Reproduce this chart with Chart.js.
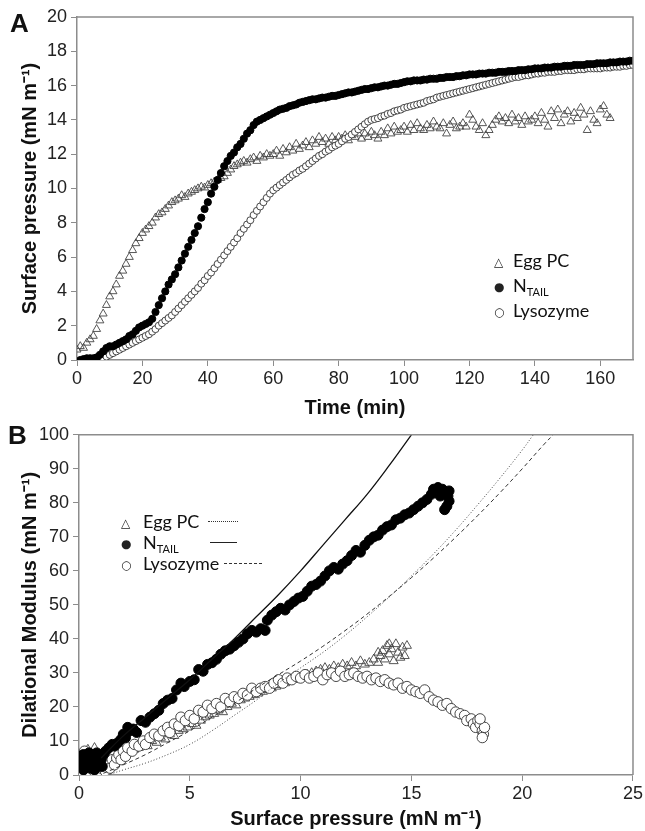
<!DOCTYPE html>
<html>
<head>
<meta charset="utf-8">
<script src="https://cdn.jsdelivr.net/npm/chart.js@4.4.0/dist/chart.umd.min.js"></script>
<style>
  body { margin: 0; background: #fff; }
  #wrap { position: relative; width: 645px; height: 831px; overflow: hidden; }
  canvas { position: absolute; left: 0; }
  .lbl { position: absolute; font-family: "Liberation Sans", Arial, sans-serif; font-weight: bold; font-size: 26px; color: #111; }
  .leg { position: absolute; font-family: Lato, "Open Sans", sans-serif; font-size: 18px; color: #111; line-height: 22px; white-space: nowrap; }
  .leg .sym { position: absolute; font-family: "DejaVu Sans", sans-serif; font-size: 12px; color: #222; }
  .leg sub { font-size: 11px; vertical-align: -4px; line-height: 0; }
  .leg .ln { position: absolute; height: 0; border-top: 1px solid #222; }
</style>
</head>
<body>
<div id="wrap">
  <canvas id="chartA" width="645" height="420" style="top:0"></canvas>
  <canvas id="chartB" width="645" height="411" style="top:420px"></canvas>
  <div class="lbl" style="left:10px;top:8px">A</div>
  <div class="lbl" style="left:8px;top:420px">B</div>

  <div class="leg" style="left:494px;top:249px">
    <span class="sym" style="left:0;top:2px">△</span><span style="margin-left:19px">Egg PC</span>
  </div>
  <div class="leg" style="left:494px;top:274px">
    <span class="sym" style="left:0;top:2px">●</span><span style="margin-left:19px">N<sub>TAIL</sub></span>
  </div>
  <div class="leg" style="left:494px;top:299px">
    <span class="sym" style="left:0;top:2px">○</span><span style="margin-left:19px">Lysozyme</span>
  </div>

  <div class="leg" style="left:121px;top:510px">
    <span class="sym" style="left:0;top:2px">△</span><span style="margin-left:22px">Egg PC</span>
    <span class="ln" style="left:87px;top:11px;width:30px;border-top:1px dotted #333"></span>
  </div>
  <div class="leg" style="left:121px;top:531px">
    <span class="sym" style="left:0;top:2px">●</span><span style="margin-left:22px">N<sub>TAIL</sub></span>
    <span class="ln" style="left:89px;top:11px;width:27px"></span>
  </div>
  <div class="leg" style="left:121px;top:552px">
    <span class="sym" style="left:0;top:2px">○</span><span style="margin-left:22px">Lysozyme</span>
    <span class="ln" style="left:103px;top:11px;width:38px;border-top:1px dashed #333"></span>
  </div>
</div>

<script>
// Panel A: surface pressure (mN/m) sampled once per minute
const ntailStart = 1;
const ntailA = [
  0.0, 0.05, 0.1, 0.1, 0.1, 0.15, 0.3, 0.5, 0.7, 0.8,
  0.8, 0.9, 1.0, 1.1, 1.2, 1.4, 1.5, 1.7, 1.9, 2.0,
  2.1, 2.2, 2.4, 2.8, 3.2, 3.6, 4.0, 4.4, 4.7, 5.0,
  5.4, 5.8, 6.2, 6.6, 7.0, 7.4, 7.8, 8.3, 8.8, 9.2,
  9.7, 10.1, 10.5, 10.9, 11.3, 11.6, 11.9, 12.1, 12.4, 12.6,
  12.9, 13.2, 13.4, 13.7, 13.9, 14.0, 14.1, 14.2, 14.3, 14.4,
  14.5, 14.6, 14.65, 14.7, 14.8, 14.85, 14.9, 15.0, 15.05, 15.1,
  15.15, 15.2, 15.2, 15.25, 15.3, 15.3, 15.35, 15.4, 15.4, 15.45,
  15.5, 15.55, 15.6, 15.6, 15.65, 15.7, 15.75, 15.8, 15.8, 15.85,
  15.9, 15.9, 15.95, 16.0, 16.0, 16.05, 16.1, 16.1, 16.15, 16.2,
  16.25, 16.25, 16.3, 16.3, 16.3, 16.35, 16.35, 16.4, 16.4, 16.4,
  16.45, 16.45, 16.5, 16.5, 16.5, 16.55, 16.55, 16.6, 16.6, 16.65,
  16.65, 16.65, 16.7, 16.7, 16.7, 16.75, 16.75, 16.75, 16.8, 16.8,
  16.8, 16.85, 16.85, 16.85, 16.9, 16.9, 16.9, 16.95, 16.95, 17.0,
  17.0, 17.0, 17.05, 17.05, 17.05, 17.1, 17.1, 17.1, 17.15, 17.15,
  17.15, 17.2, 17.2, 17.2, 17.2, 17.25, 17.25, 17.25, 17.3, 17.3,
  17.3, 17.3, 17.35, 17.35, 17.35, 17.4, 17.4, 17.4, 17.45, 17.45
];

const lysoStart = 3;
const lysoA = [
  0.0, 0.0, 0.0, 0.05, 0.1, 0.15, 0.2, 0.3,
  0.4, 0.5, 0.6, 0.7, 0.8, 0.9, 1.0, 1.1, 1.2, 1.3,
  1.4, 1.5, 1.65, 1.8, 2.0, 2.15, 2.3, 2.45, 2.6, 2.8,
  3.0, 3.2, 3.4, 3.6, 3.8, 4.0, 4.2, 4.45, 4.65, 4.9,
  5.1, 5.35, 5.6, 5.85, 6.1, 6.35, 6.6, 6.85, 7.1, 7.4,
  7.65, 7.9, 8.15, 8.45, 8.7, 8.95, 9.2, 9.45, 9.7, 9.9,
  10.05, 10.2, 10.35, 10.5, 10.65, 10.8, 10.9, 11.05, 11.15, 11.3,
  11.45, 11.6, 11.75, 11.9, 12.0, 12.15, 12.25, 12.4, 12.5, 12.6,
  12.75, 12.9, 13.0, 13.15, 13.3, 13.45, 13.6, 13.75, 13.9, 14.0,
  14.05, 14.1, 14.2, 14.25, 14.35, 14.4, 14.5, 14.55, 14.6, 14.7,
  14.75, 14.8, 14.85, 14.9, 14.95, 15.0, 15.1, 15.15, 15.2, 15.3,
  15.35, 15.4, 15.45, 15.5, 15.55, 15.6, 15.65, 15.7, 15.75, 15.8,
  15.85, 15.9, 15.95, 16.0, 16.05, 16.1, 16.15, 16.2, 16.25, 16.3,
  16.35, 16.4, 16.45, 16.5, 16.5, 16.55, 16.6, 16.6, 16.65, 16.7,
  16.7, 16.75, 16.75, 16.8, 16.8, 16.8, 16.85, 16.85, 16.9, 16.9,
  16.9, 16.9, 16.95, 16.95, 16.95, 17.0, 17.0, 17.0, 17.0, 17.0,
  17.05, 17.05, 17.05, 17.1, 17.1, 17.1, 17.15, 17.15, 17.2, 17.2
];

const eggStart = 0;
const eggA = [
  0.6, 0.8, 0.7, 1.0, 1.2, 1.4, 1.8, 2.3, 2.7, 3.2,
  3.7, 4.0, 4.4, 4.9, 5.2, 5.6, 6.0, 6.4, 6.8, 7.1,
  7.4, 7.6, 7.8, 8.0, 8.3, 8.5, 8.6, 8.8, 9.0, 9.2,
  9.3, 9.4, 9.6, 9.5, 9.7, 9.8, 9.9, 10.0, 10.1, 10.05,
  10.2, 10.3, 10.4, 10.5, 10.6, 10.7, 10.9, 11.1, 11.3, 11.4,
  11.5, 11.6, 11.5, 11.7, 11.8, 11.6, 11.9, 11.8, 12.0, 11.9,
  12.0, 12.2, 11.9, 12.3, 12.1, 12.4, 12.2, 12.6, 12.3, 12.5,
  12.7, 12.4, 12.8, 12.6, 13.0, 12.7, 12.9, 12.6, 13.0, 12.8,
  13.0, 12.9, 13.1, 12.8, 13.1, 13.0, 13.2, 12.9, 13.2, 13.0,
  13.3, 13.1, 12.9, 13.3, 13.1, 13.5, 13.2, 13.6, 13.3, 13.4,
  13.6, 13.3, 13.7, 13.4, 13.8, 13.5, 13.4, 13.7, 13.5, 13.9,
  13.6, 13.5, 13.8, 13.2, 13.7, 13.9, 13.5, 13.6, 13.8, 13.6,
  14.3, 14.0, 13.6, 13.4, 13.8, 13.1, 13.4, 13.7, 14.0, 14.2,
  13.9, 14.1, 13.8, 14.3, 13.9, 14.1, 13.7, 14.2, 13.9, 14.0,
  14.2, 13.8, 14.4, 14.0, 13.6, 14.5, 14.1, 14.6, 13.8, 14.3,
  14.5, 13.9, 14.4, 14.1, 14.7, 14.3, 13.4, 14.5, 14.0, 13.8,
  14.6, 14.8, 14.3, 14.1
];

// Panel B: dilational modulus (mN/m) vs surface pressure (mN/m)
const eggPi = [0.0, 0.1, 0.2, 0.3, 0.4, 0.5, 0.6, 0.7, 0.8, 0.9, 1.0, 1.1, 1.2, 1.3, 1.5, 1.7, 1.9, 2.1, 2.3, 2.5,
  2.7, 2.9, 3.1, 3.3, 3.5, 3.7, 3.9, 4.1, 4.3, 4.5, 4.7, 4.9, 5.1, 5.3, 5.5, 5.7, 5.9, 6.1, 6.3, 6.5,
  6.7, 6.9, 7.1, 7.3, 7.5, 7.7, 7.9, 8.1, 8.3, 8.5, 8.7, 8.9, 9.1, 9.3, 9.5, 9.7, 9.9, 10.1, 10.3, 10.5,
  10.7, 10.9, 11.1, 11.3, 11.5, 11.7, 11.9, 12.1, 12.3, 12.5, 12.7, 12.9, 13.1, 13.3, 13.5, 13.6, 13.7, 13.8, 13.9, 14.0,
  14.1, 14.2, 14.3, 14.4, 14.5, 14.6, 14.7, 14.8, 13.5, 14.0];
const eggE = [3, 6, 1, 4, 7.5, 2, 5, 8, 3, 1, 6, 2, 4, 1.5, 3, 4.5, 5, 6, 7, 7.5,
  8, 9, 8.5, 10, 9.5, 11, 10.5, 12, 11.5, 13, 13.5, 14, 15, 14.5, 16, 17, 17.5, 18, 19, 18.5,
  20, 21, 20.5, 22, 22.5, 23, 23.5, 24, 24.5, 25, 25.5, 26, 26.5, 27, 27.5, 28, 28.5, 29, 29.5, 30,
  30.5, 31, 31.5, 31, 32, 31.5, 32.5, 32, 33, 32, 33.5, 32.5, 33, 34, 33, 35, 36.5, 34, 38, 35.5,
  37, 33.5, 38.5, 36, 34.5, 37.5, 35, 38, 36, 38.5];

const ntailPi = [0.0, 0.05, 0.1, 0.15, 0.2, 0.2, 0.25, 0.3, 0.35, 0.4, 0.45, 0.5, 0.55, 0.6, 0.65, 0.7, 0.75, 0.8, 0.85, 0.9,
  0.95, 1.0, 1.05, 1.1, 1.2, 1.35, 1.5, 1.6, 1.75, 1.9, 2.0, 2.1, 2.2, 2.3, 2.45, 2.6, 2.8, 3.0, 3.2, 3.4,
  3.6, 3.8, 4.0, 4.2, 4.4, 4.6, 4.75, 5.0, 5.2, 5.4, 5.6, 5.8, 6.0, 6.2, 6.4, 6.6, 6.8, 7.0, 7.2, 7.4,
  7.6, 7.8, 8.0, 8.2, 8.4, 8.5, 8.7, 8.9, 9.1, 9.3, 9.5, 9.7, 9.9, 10.1, 10.3, 10.5, 10.7, 10.9, 11.1, 11.3,
  11.5, 11.7, 11.9, 12.1, 12.3, 12.5, 12.7, 12.9, 13.1, 13.3, 13.5, 13.7, 13.9, 14.1, 14.3, 14.5, 14.7, 14.9, 15.1, 15.3,
  15.5, 15.7, 15.9, 16.0, 16.2, 16.4, 16.55, 16.65, 16.7, 16.6, 16.5, 16.7, 16.3];
const ntailE = [4.5, 2.5, 5.5, 3, 1.5, 6, 4, 2.5, 5, 3.5, 6.5, 2, 4.5, 3, 5.5, 1.5, 4, 6.5, 2.5, 5,
  3.5, 4.5, 2.5, 6, 7, 8, 9, 8.5, 9.5, 10.5, 12, 11, 14, 13, 13.5, 12.5, 16, 15.5, 17, 18,
  19, 21, 22, 22.5, 25, 27, 26, 27.5, 28, 31, 30.5, 32.5, 33, 34, 35.5, 36.5, 37, 38, 39, 40,
  41.5, 42.5, 42, 43, 42.5, 45.5, 47, 48, 49, 48.5, 50, 51, 52, 52.5, 54, 55.5, 56, 57, 58.5, 60,
  61, 60.5, 62, 63, 64.5, 66, 65.5, 67.5, 69, 70, 70.5, 72, 73, 73.5, 75, 75.5, 76.5, 77, 78, 79,
  80, 81, 82.5, 84, 84.5, 84, 83, 82, 80.5, 79, 78, 83.5, 82];

const lysoPi = [0.0, 0.05, 0.1, 0.2, 0.25, 0.3, 0.4, 0.5, 0.55, 0.6, 0.7, 0.8, 0.9, 1.0, 1.1, 1.2, 1.3, 1.4, 1.5, 1.6,
  1.7, 1.8, 1.9, 2.0, 2.1, 2.2, 2.4, 2.5, 2.7, 2.9, 3.0, 3.2, 3.4, 3.6, 3.8, 4.0, 4.1, 4.3, 4.5, 4.6,
  4.8, 5.0, 5.2, 5.4, 5.6, 5.8, 6.0, 6.2, 6.4, 6.6, 6.8, 7.0, 7.2, 7.4, 7.6, 7.8, 8.0, 8.2, 8.4, 8.6,
  8.8, 9.0, 9.2, 9.4, 9.6, 9.8, 10.0, 10.2, 10.4, 10.6, 10.8, 11.0, 11.2, 11.4, 11.6, 11.8, 12.0, 12.2, 12.4, 12.6,
  12.8, 13.0, 13.2, 13.4, 13.6, 13.8, 14.0, 14.2, 14.4, 14.6, 14.8, 15.0, 15.2, 15.4, 15.6, 15.8, 16.0, 16.2, 16.4, 16.6,
  16.8, 17.0, 17.2, 17.4, 17.5, 17.7, 17.8, 17.9, 18.0, 18.1, 18.2, 18.25, 18.3, 18.2, 18.1];
const lysoE = [1, 4, 0.5, 3, 7, 1.5, 5, 0.5, 2.5, 6, 1, 3.5, 0.5, 2, 5, 1, 3, 2, 4.5, 3,
  5, 6, 4.5, 7, 5.5, 8, 7, 9, 8.5, 10, 9, 11, 12, 11.5, 13, 14, 12.5, 15, 14.5, 17,
  16, 17.5, 16.5, 19, 18.5, 20.5, 19.5, 21, 20, 22.5, 21.5, 23, 22.5, 24, 23.5, 25.5, 24.5, 25.5, 26, 25.5,
  27, 28, 27, 28.5, 28, 29, 28.5, 29.5, 28.5, 29, 30, 28, 29.5, 30, 29, 30.5, 29, 29.5, 30, 29,
  28.5, 29, 28, 28.5, 27.5, 28, 27, 26.5, 27, 25.5, 26, 25, 24.5, 24, 25, 23, 22, 21.5, 20.5, 21,
  19.5, 18.5, 18, 17.5, 16, 16.5, 15, 14, 16, 15, 13, 12, 14, 11, 16.5];

// Panel B fitted curves
const ntailFitPi = [1, 2, 3, 4, 5, 6, 7, 8, 9, 10, 11, 12, 13, 14, 15];
const ntailFitE = [5, 11.5, 17, 22.5, 28, 34, 40, 46.5, 53, 60, 67.5, 75, 82.5, 91, 100];
const eggFitPi = [1.3, 2, 3, 4, 5, 6, 7, 8, 9, 10, 11, 12, 13, 14, 15, 16, 17, 18, 19, 20, 20.5];
const eggFitE = [0, 1.5, 3.5, 6, 9, 13, 17.5, 22, 27, 31.5, 36, 41, 46.5, 52.3, 58.5, 65, 72, 79.5, 87.3, 95.5, 100];
const lysoFitPi = [1.1, 2, 3, 4, 5, 6, 7, 8, 9, 10, 11, 12, 13, 14, 15, 16, 17, 18, 19, 20, 21, 21.4];
const lysoFitE = [0.5, 3, 6, 9.5, 13, 17, 21, 25.5, 29.5, 33.5, 37.8, 42.4, 47.3, 52.5, 58, 63.8, 69.9, 76.3, 83, 90, 97.3, 100];

function byMinute(start, values) {
  return values.map((v, i) => ({ x: start + i, y: v }));
}
function pairs(xs, ys) {
  return xs.map((x, i) => ({ x: x, y: ys[i] }));
}

const axisGray = '#8c8c8c';
const tickFont = { family: 'Liberation Sans', size: 18 };
const titleFont = { family: 'Liberation Sans', size: 20, weight: 'bold' };

// draws the top and right frame lines
const frame = {
  id: 'frame',
  afterDraw(chart) {
    const a = chart.chartArea, ctx = chart.ctx;
    ctx.save();
    ctx.strokeStyle = axisGray;
    ctx.lineWidth = 1.5;
    ctx.beginPath();
    ctx.moveTo(a.left, a.top);
    ctx.lineTo(a.right, a.top);
    ctx.lineTo(a.right, a.bottom);
    ctx.stroke();
    ctx.restore();
  }
};

function makeOptions(x, y, pad, xh, yw) {
  return {
    responsive: false,
    animation: false,
    devicePixelRatio: 1,
    layout: { padding: pad },
    plugins: { legend: { display: false }, tooltip: { enabled: false } },
    scales: {
      x: {
        type: 'linear', min: x.min, max: x.max,
        ticks: { stepSize: x.step, includeBounds: false, font: tickFont, color: '#222', padding: 2 },
        grid: { drawOnChartArea: false, drawTicks: true, tickLength: 6, color: axisGray },
        border: { color: axisGray, width: 1.5 },
        title: { display: true, text: x.title, font: titleFont, color: '#111', padding: { top: 0, bottom: 0 } },
        afterFit(s) { s.height = xh; }
      },
      y: {
        type: 'linear', min: y.min, max: y.max,
        ticks: { stepSize: y.step, font: tickFont, color: '#222', padding: 4 },
        grid: { drawOnChartArea: false, drawTicks: true, tickLength: 6, color: axisGray },
        border: { color: axisGray, width: 1.5 },
        title: { display: true, text: y.title, font: titleFont, color: '#111', padding: { top: 18, bottom: 0 } },
        afterFit(s) { s.width = yw; }
      }
    }
  };
}

function gerarGraficoA() {
  const ctx = document.getElementById('chartA').getContext('2d');
  new Chart(ctx, {
    type: 'scatter',
    data: {
      datasets: [
        { label: 'NTAIL', data: byMinute(ntailStart, ntailA), pointStyle: 'circle', pointRadius: 3.6,
          backgroundColor: '#000', borderColor: '#000', borderWidth: 1 },
        { label: 'Lysozyme', data: byMinute(lysoStart, lysoA), pointStyle: 'circle', pointRadius: 3.5,
          backgroundColor: '#fff', borderColor: '#333', borderWidth: 0.9 },
        { label: 'Egg PC', data: byMinute(eggStart, eggA), pointStyle: 'triangle', pointRadius: 4.6,
          backgroundColor: 'rgba(255,255,255,0)', borderColor: '#444', borderWidth: 0.9 }
      ]
    },
    options: makeOptions(
      { min: 0, max: 170, step: 20, title: 'Time (min)' },
      { min: 0, max: 20, step: 2, title: 'Surface pressure (mN m⁻¹)' },
      { top: 17, right: 12, left: 0, bottom: 0 }, 60, 77),
    plugins: [frame]
  });
}

function gerarGraficoB() {
  const ctx = document.getElementById('chartB').getContext('2d');
  new Chart(ctx, {
    type: 'scatter',
    data: {
      datasets: [
        { label: 'NTAIL fit', data: pairs(ntailFitPi, ntailFitE), showLine: true, pointRadius: 0,
          borderColor: '#111', borderWidth: 1.3, tension: 0.4 },
        { label: 'Egg PC fit', data: pairs(eggFitPi, eggFitE), showLine: true, pointRadius: 0,
          borderColor: '#444', borderWidth: 1, borderDash: [1, 2], tension: 0.4 },
        { label: 'Lysozyme fit', data: pairs(lysoFitPi, lysoFitE), showLine: true, pointRadius: 0,
          borderColor: '#333', borderWidth: 1, borderDash: [4, 3], tension: 0.4 },
        { label: 'NTAIL', data: pairs(ntailPi, ntailE), pointStyle: 'circle', pointRadius: 5,
          backgroundColor: '#000', borderColor: '#000', borderWidth: 1 },
        { label: 'Lysozyme', data: pairs(lysoPi, lysoE), pointStyle: 'circle', pointRadius: 5.2,
          backgroundColor: '#fff', borderColor: '#333', borderWidth: 0.9 },
        { label: 'Egg PC', data: pairs(eggPi, eggE), pointStyle: 'triangle', pointRadius: 5.2,
          backgroundColor: 'rgba(255,255,255,0)', borderColor: '#444', borderWidth: 0.9 }
      ]
    },
    options: makeOptions(
      { min: 0, max: 25, step: 5, title: 'Surface pressure (mN m⁻¹)' },
      { min: 0, max: 100, step: 10, title: 'Dilational Modulus (mN m⁻¹)' },
      { top: 11, right: 12, left: 0, bottom: 0 }, 56, 79),
    plugins: [frame]
  });
}

window.onload = function () {
  gerarGraficoA();
  gerarGraficoB();
};
</script>
</body>
</html>
